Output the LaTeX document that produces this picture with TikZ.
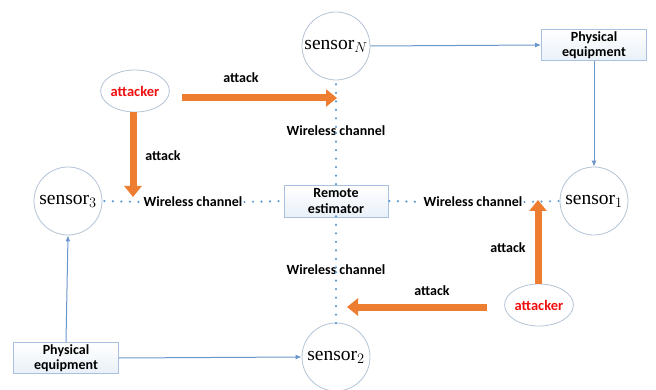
\documentclass[tikz,border=0pt]{standalone}
\usepackage{fontspec}
\setmainfont{Liberation Serif}
\newfontfamily\lblfont{Carlito}
\usetikzlibrary{arrows.meta,shapes.geometric}
\definecolor{circline}{HTML}{B4C4D6}
\definecolor{boxline}{HTML}{A9C1DE}
\definecolor{boxfill}{HTML}{E9F0F8}
\definecolor{blueline}{HTML}{6B96CC}
\definecolor{dotblue}{HTML}{5B9BD5}
\definecolor{atkorange}{HTML}{ED7D31}
\definecolor{atkred}{HTML}{F01010}
\tikzset{
  sensornode/.style={circle,draw=circline,line width=0.8pt,fill=white,minimum size=68pt,inner sep=0pt,font=\fontsize{19.5}{21}\selectfont},
  equipbox/.style={draw=boxline,line width=0.8pt,top color=white,bottom color=boxfill,minimum width=105pt,minimum height=31pt,inner sep=0pt,align=center,font=\lblfont\bfseries\fontsize{14}{15.5}\selectfont},
  attnode/.style={ellipse,draw=circline,line width=0.8pt,fill=white,minimum width=67pt,minimum height=42pt,inner sep=0pt,text=atkred,font=\lblfont\bfseries\fontsize{14.5}{16}\selectfont},
  lbl/.style={inner sep=1pt,font=\lblfont\bfseries\fontsize{14}{16}\selectfont},
  wchan/.style={draw=dotblue,line width=2.4pt,line cap=round,dash pattern=on 0pt off 8.5pt},
  bluearrow/.style={draw=blueline,line width=1pt,-{Latex[length=6pt,width=5pt]}},
  atkarrow/.style={draw=atkorange,line width=7pt,-{Triangle[length=11pt,width=17pt]}},
}
\begin{document}
\begin{tikzpicture}[x=1pt,y=-1pt]
\useasboundingbox (0,0) rectangle (656,390);
% nodes
\node[sensornode] (sN) at (336,46) {sensor$_{N}$};
\node[sensornode] (s1) at (594,201) {sensor$_{1}$};
\node[sensornode] (s2) at (336,357) {sensor$_{2}$};
\node[sensornode] (s3) at (68,201) {sensor$_{3}$};
\node[equipbox] (peT) at (594,45) {Physical\\equipment};
\node[equipbox] (peB) at (66,358) {Physical\\equipment};
\node[equipbox,minimum width=104pt,minimum height=32pt] (re) at (336,201) {Remote\\estimator};
\node[attnode] (aL) at (135,91) {attacker};
\node[attnode] (aR) at (539,305) {attacker};
% wireless channel labels
\node[lbl] (wT) at (336,131) {Wireless channel};
\node[lbl] (wB) at (336,270) {Wireless channel};
\node[lbl] (wL) at (193,202) {Wireless channel};
\node[lbl] (wR) at (473,202) {Wireless channel};
% attack labels
\node[lbl] (t1) at (241,78) {attack};
\node[lbl] (t2) at (163,156) {attack};
\node[lbl] (t3) at (508,248) {attack};
\node[lbl] (t4) at (432,291) {attack};
% dotted channels
\draw[wchan] (sN.south) ++(0,4) -- ([yshift=-4pt]wT.north);
\draw[wchan] ([yshift=4pt]wT.south) -- ([yshift=-1pt]re.north);
\draw[wchan] ([yshift=1pt]re.south) -- ([yshift=-4pt]wB.north);
\draw[wchan] ([yshift=4pt]wB.south) -- ([yshift=-2pt]s2.north);
\draw[wchan] ([xshift=2pt]s3.east) -- ([xshift=-1pt]wL.west);
\draw[wchan] ([xshift=1pt]wL.east) -- ([xshift=-1pt]re.west);
\draw[wchan] ([xshift=1pt]re.east) -- ([xshift=-1pt]wR.west);
\draw[wchan] ([xshift=1pt]wR.east) -- ([xshift=-1pt]s1.west);
% blue arrows
\draw[bluearrow] (sN.east) -- (peT.west);
\draw[bluearrow] (peT.south) -- (s1.north);
\draw[bluearrow] (peB.east) -- (s2.west);
\draw[bluearrow] (peB.north) -- (s3.south);
% attack arrows
\coordinate (a1e) at (337,98);
\coordinate (a2e) at (133,197);
\coordinate (a3e) at (538,200);
\coordinate (a4e) at (347,307);
\draw[atkarrow] (182,98) -- (a1e);
\draw[atkarrow] (aL.south -| a2e) -- (a2e);
\draw[atkarrow] (aR.north -| a3e) -- (a3e);
\draw[atkarrow] (487,307) -- (a4e);
\end{tikzpicture}
\end{document}
